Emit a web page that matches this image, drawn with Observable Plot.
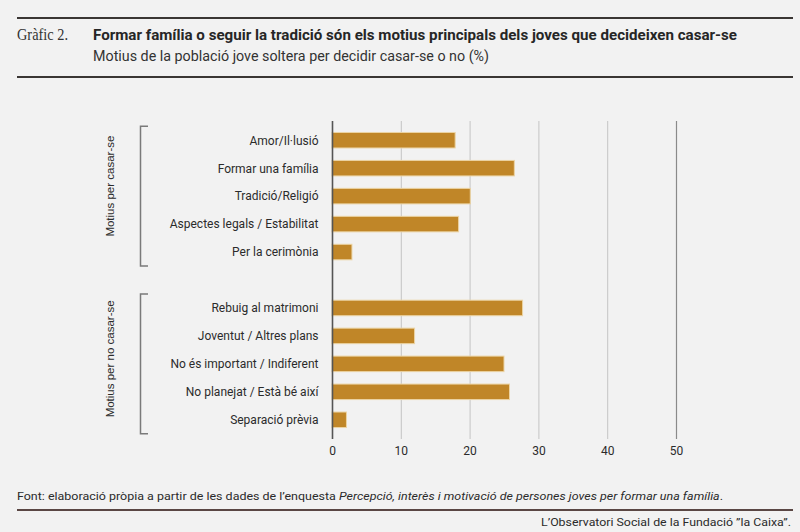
<!DOCTYPE html>
<html>
<head>
<meta charset="utf-8">
<script src="https://cdn.jsdelivr.net/npm/d3@7"></script>
<script src="https://cdn.jsdelivr.net/npm/@observablehq/plot@0.6"></script>
<style>
  html, body { margin: 0; padding: 0; background: #f2f2f2; }
  #wrap { position: relative; width: 800px; height: 532px; overflow: hidden; background: #f2f2f2; color: #2b2b2b; font-family: Roboto, sans-serif; }
  .t { position: absolute; white-space: nowrap; line-height: normal; }
  .rule { position: absolute; left: 17px; width: 776px; height: 2px; }
  #chart { position: absolute; left: 0; top: 80px; }
</style>
</head>
<body>
<div id="wrap">
  <div class="rule" style="top:17px;background:#3a3634"></div>
  <div class="t" id="num" style="font-family:'Liberation Serif',serif;font-size:16px;color:#333">Gràfic 2.</div>
  <div class="t" id="title" style="font-weight:700;font-size:14px;color:#262626">Formar família o seguir la tradició són els motius principals dels joves que decideixen casar-se</div>
  <div class="t" id="subtitle" style="font-size:14px;color:#333">Motius de la població jove soltera per decidir casar-se o no (%)</div>
  <div class="rule" style="top:76px;background:#3a3634"></div>
  <div id="chart"></div>
  <div class="t" id="source" style="font-size:11.5px;color:#2b2b2b">Font: elaboració pròpia a partir de les dades de l’enquesta <i>Percepció, interès i motivació de persones joves per formar una família</i>.</div>
  <div class="rule" style="top:509px;background:#5a4744"></div>
  <div class="t" id="credit" style="font-size:11.5px;color:#2b2b2b">L’Observatori Social de la Fundació ”la Caixa”.</div>
</div>
<script>
// ---- data ----
const grups = ["Motius per casar-se", "Motius per no casar-se"];
const motiusCasar = ["Amor/Il·lusió", "Formar una família", "Tradició/Religió", "Aspectes legals / Estabilitat", "Per la cerimònia"];
const valorsCasar = [17.9, 26.5, 20.1, 18.4, 2.9];
const motiusNoCasar = ["Rebuig al matrimoni", "Joventut / Altres plans", "No és important / Indiferent", "No planejat / Està bé així", "Separació prèvia"];
const valorsNoCasar = [27.7, 12.0, 25.0, 25.8, 2.1];
const xTicks = [0, 10, 20, 30, 40, 50];
const spacer = " ";

const data = [
  ...motiusCasar.map((m, i) => ({grup: grups[0], motiu: m, valor: valorsCasar[i]})),
  ...motiusNoCasar.map((m, i) => ({grup: grups[1], motiu: m, valor: valorsNoCasar[i]}))
];
const yDomain = [...motiusCasar, spacer, ...motiusNoCasar];

const plot = Plot.plot({
  width: 800,
  height: 389,
  marginTop: 41,
  marginBottom: 30,
  marginLeft: 332,
  marginRight: 124,
  style: {background: "transparent", fontFamily: "Roboto, sans-serif", fontSize: "12px", color: "#2b2b2b", overflow: "visible"},
  x: {domain: [0, 50], ticks: xTicks, tickSize: 0, tickPadding: 7, label: null},
  y: {domain: yDomain, paddingInner: 0.445, paddingOuter: 0.41, round: false, tickSize: 0, tickPadding: 14, label: null,
      tickFormat: d => d === spacer ? "" : d},
  marks: [
    Plot.ruleX(xTicks.filter(t => t > 0 && t < 50), {stroke: "#c4c4c4", strokeWidth: 1}),
    Plot.ruleX(xTicks.filter(t => t === 50), {stroke: "#8a8a8a", strokeWidth: 1.2}),
    Plot.barX(data, {x: "valor", y: "motiu", fill: "#c08628", stroke: "#ecd4a4", strokeWidth: 1}),
    Plot.ruleX(xTicks.filter(t => t === 0), {stroke: "#555", strokeWidth: 1.6})
  ]
});
document.getElementById("chart").appendChild(plot);

// group brackets and labels, placed with the plot's own y scale
const ys = plot.scale("y");
const half = (ys.step - ys.bandwidth) / 2;
const svg = d3.select(plot);
const groupsMembers = [motiusCasar, motiusNoCasar];
groupsMembers.forEach((members, gi) => {
  const top = ys.apply(members[0]) - half;
  const bottom = ys.apply(members[members.length - 1]) + ys.bandwidth + half;
  svg.append("path")
    .attr("d", `M148,${top}H140.5V${bottom}H148`)
    .attr("fill", "none").attr("stroke", "#7a7a7a").attr("stroke-width", 1.5);
  const cy = (top + bottom) / 2 - (gi === 0 ? 10 : 5);
  svg.append("text")
    .attr("transform", `translate(110,${cy}) rotate(-90)`)
    .attr("text-anchor", "middle").attr("dominant-baseline", "central")
    .attr("font-family", "'Liberation Sans', Arial, sans-serif").attr("font-size", 11.5)
    .attr("fill", "#2b2b2b")
    .text(grups[gi]);
});

// place header/footer text by baseline and fit to measured widths
function place(id, x, baseline, width, anchor) {
  const el = document.getElementById(id);
  const probe = document.createElement("span");
  probe.style.display = "inline-block"; probe.style.width = "0"; probe.style.height = "0"; probe.style.verticalAlign = "baseline";
  el.style.left = "0px"; el.style.top = "0px";
  el.appendChild(probe);
  const er = el.getBoundingClientRect(), pr = probe.getBoundingClientRect();
  const baseOff = pr.bottom - er.top;
  el.removeChild(probe);
  const w = er.width;
  const s = width ? width / w : 1;
  el.style.top = (baseline - baseOff) + "px";
  if (anchor === "end") {
    el.style.left = (x - w) + "px";
    el.style.transformOrigin = "right top";
  } else {
    el.style.left = x + "px";
    el.style.transformOrigin = "left top";
  }
  el.style.transform = `scaleX(${s})`;
}
place("num", 17, 40, 51);
place("title", 93, 39.5, 644);
place("subtitle", 93, 61, 396);
place("source", 17, 500, 706);
place("credit", 791, 525.5, 250, "end");
</script>
</body>
</html>
